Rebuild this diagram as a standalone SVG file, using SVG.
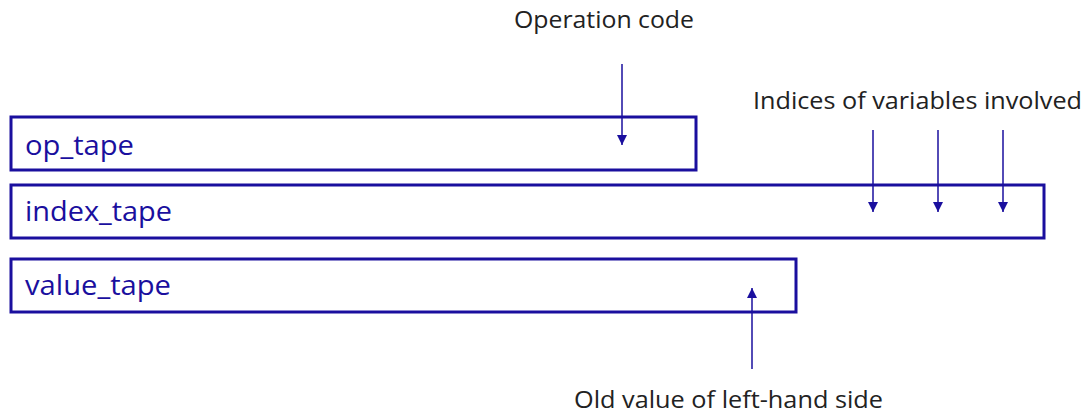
<svg xmlns="http://www.w3.org/2000/svg" width="1089" height="416" viewBox="0 0 1089 416">
<style>
.box{fill:#fff;stroke:#1a0f9e;stroke-width:3}
.lbl{font-family:"Open Sans","Liberation Sans",sans-serif;font-size:28px;fill:#1a0f9e}
.note{font-family:"Open Sans","Liberation Sans",sans-serif;font-size:24px;fill:#222}
.conn{stroke:#1a0f9e;stroke-width:1.5;fill:none}
</style>
<defs>
<marker id="ah" viewBox="0 0 10 10" refX="10" refY="5" markerWidth="10" markerHeight="10" markerUnits="userSpaceOnUse" orient="auto">
<path d="M0,0 L10,5 L0,10 z" fill="#1a0f9e"/>
</marker>
</defs>
<rect width="1089" height="416" fill="#fff"/>
<g id="op_tape"><rect class="box" x="11" y="117" width="685" height="53"/><text class="lbl" x="25" y="155" textLength="109" lengthAdjust="spacingAndGlyphs">op_tape</text></g>
<g id="index_tape"><rect class="box" x="11" y="185" width="1033" height="53"/><text class="lbl" x="25" y="221" textLength="147" lengthAdjust="spacingAndGlyphs">index_tape</text></g>
<g id="value_tape"><rect class="box" x="11" y="259" width="785" height="53"/><text class="lbl" x="25" y="295" textLength="146" lengthAdjust="spacingAndGlyphs">value_tape</text></g>
<g id="label_op"><text class="note" x="514" y="28" textLength="180" lengthAdjust="spacingAndGlyphs">Operation code</text></g>
<g id="label_idx"><text class="note" x="753" y="109" textLength="329" lengthAdjust="spacingAndGlyphs">Indices of variables involved</text></g>
<g id="label_val"><text class="note" x="574" y="408" textLength="309" lengthAdjust="spacingAndGlyphs">Old value of left-hand side</text></g>
<g id="connectors">
<line class="conn" x1="622" y1="64" x2="622" y2="145" marker-end="url(#ah)"/>
<line class="conn" x1="873" y1="130" x2="873" y2="212" marker-end="url(#ah)"/>
<line class="conn" x1="938" y1="130" x2="938" y2="212" marker-end="url(#ah)"/>
<line class="conn" x1="1003" y1="130" x2="1003" y2="212" marker-end="url(#ah)"/>
<line class="conn" x1="752" y1="369" x2="752" y2="288" marker-end="url(#ah)"/>
</g>
</svg>
